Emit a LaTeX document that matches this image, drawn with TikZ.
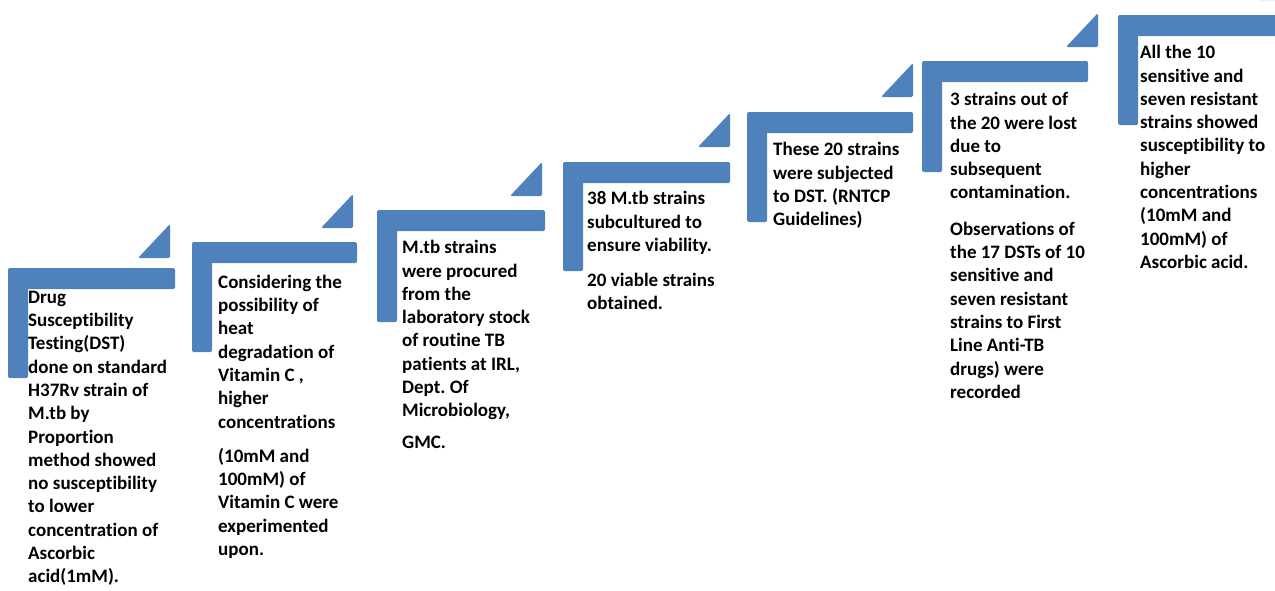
\documentclass[tikz,border=0pt]{standalone}
\usepackage{fontspec}
\setmainfont{Carlito}[Ligatures=NoCommon]
\frenchspacing
\definecolor{stepblue}{HTML}{4F81BD}
\tikzset{
  stepfill/.style={fill=stepblue, draw=none, rounded corners=1.5pt},
  steptext/.style={anchor=north west, inner sep=0pt, align=left, text=black,
    font=\fontsize{19}{23.3}\selectfont\bfseries}
}
% #1 x, #2 y (bar top), #3 bar right, #4 vertical bottom, #5 tri right, #6 tri bottom
\newcommand{\stepupshape}[6]{%
  \fill[stepfill] (#1,#2) rectangle (#3,#2+21);
  \fill[stepfill] (#1,#2) rectangle (#1+20,#4);
  \fill[stepfill] (#5-32,#6) -- (#5,#6) -- (#5,#6-34) -- cycle;
}
\begin{document}
\begin{tikzpicture}[x=1pt,y=-1pt]
\useasboundingbox (0,0) rectangle (1275,590);

\stepupshape{8}{268}{175}{378}{170}{258}
\stepupshape{192}{242}{357}{352}{353}{228}
\stepupshape{377}{210}{545}{322}{542}{196}
\stepupshape{563}{162}{730}{271}{730}{147}
\stepupshape{747}{112}{913}{222}{913}{97}
\stepupshape{922}{61}{1088}{172}{1098}{47}
\stepupshape{1118}{15}{1290}{125}{1290}{0}

\node[steptext] (t1) at (28,286.7) {\strut Drug\\Susceptibility\\Testing(DST)\\done on standard\\H37Rv strain of\\M.tb by\\Proportion\\method showed\\no susceptibility\\to lower\\concentration of\\Ascorbic\\acid(1mM).};
\node[steptext] (t2) at (218,271.7) {\strut Considering the\\possibility of\\heat\\degradation of\\Vitamin C ,\\higher\\concentrations\\[11pt](10mM and\\100mM) of\\Vitamin C were\\experimented\\upon.};
\node[steptext] (t3) at (402,237.2) {\strut M.tb strains\\were procured\\from the\\laboratory stock\\of routine TB\\patients at IRL,\\Dept. Of\\Microbiology,\\[8pt]GMC.};
\node[steptext] (t4) at (587,188.2) {\strut 38 M.tb strains\\subcultured to\\ensure viability.\\[12pt]20 viable strains\\obtained.};
\node[steptext] (t5) at (773,139.2) {\strut These 20 strains\\were subjected\\to DST. (RNTCP\\Guidelines)};
\node[steptext] (t6) at (950,89.2) {\strut 3 strains out of\\the 20 were lost\\due to\\subsequent\\contamination.\\[13pt]Observations of\\the 17 DSTs of 10\\sensitive and\\seven resistant\\strains to First\\Line Anti-TB\\drugs) were\\recorded};
\node[steptext] (t7) at (1140,42.2) {\strut All the 10\\sensitive and\\seven resistant\\strains showed\\susceptibility to\\higher\\concentrations\\(10mM and\\100mM) of\\Ascorbic acid.};
\end{tikzpicture}
\end{document}
